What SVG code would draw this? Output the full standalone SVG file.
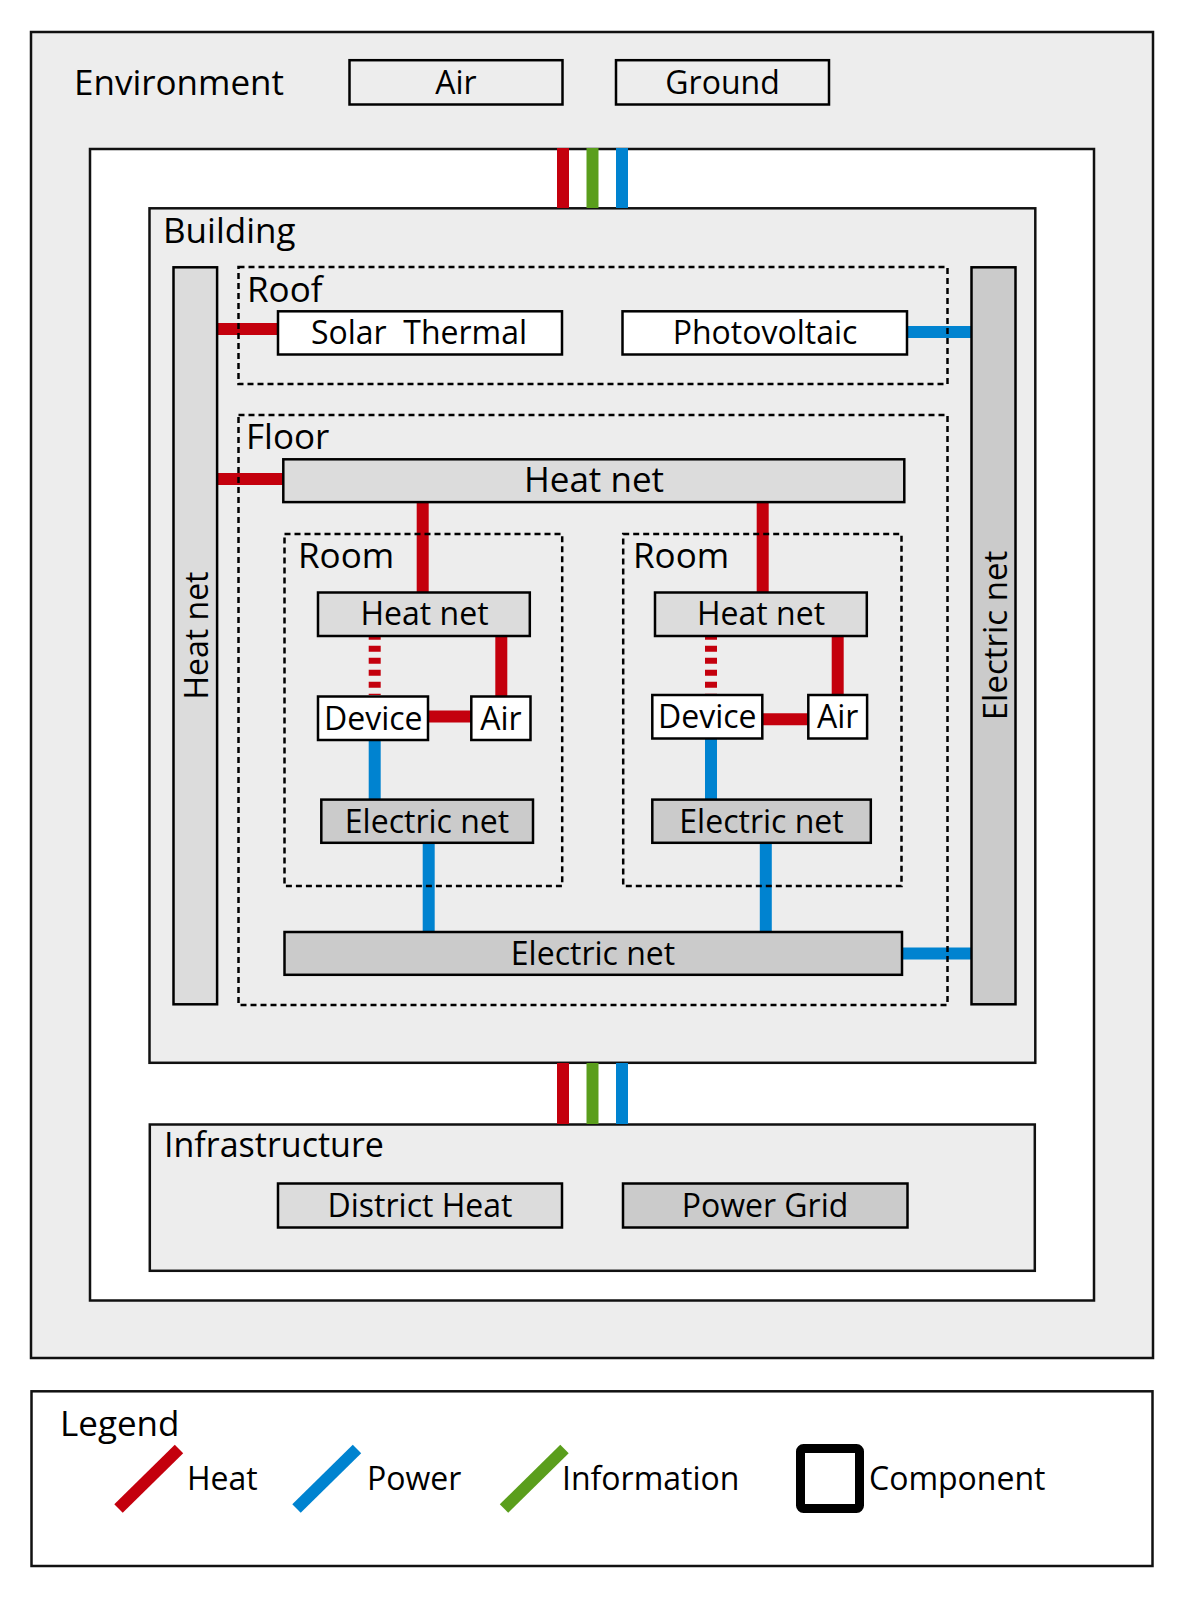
<svg xmlns="http://www.w3.org/2000/svg" width="1183" height="1597" viewBox="0 0 1183 1597">
<style>
  text { font-family: "Open Sans", "Noto Sans", "Liberation Sans", sans-serif; fill: #000; }
  .big { font-size: 35px; }
  .lbl { font-size: 32px; text-anchor: middle; }
  .leg { font-size: 32px; }
  .box { stroke: #000; stroke-width: 2.5; }
  .cont { stroke: #111; stroke-width: 2.5; }
  .dash { fill: none; stroke: #000; stroke-width: 2.5; stroke-dasharray: 6 4; }
  .white { fill: #fff; }
  .bg { fill: #ededed; }
  .lg { fill: #dcdcdc; }
  .dg { fill: #cbcbcb; }
  .heat { stroke: #c4000d; stroke-width: 12; fill: none; }
  .power { stroke: #0083d0; stroke-width: 12; fill: none; }
  .info { stroke: #5a9e1c; stroke-width: 12; fill: none; }
</style>

<g id="environment">
  <rect class="cont bg" x="31" y="32" width="1122" height="1326"/>
  <text class="big" x="74" y="95">Environment</text>
</g>
<g id="env-air">
  <rect class="box bg" x="349.5" y="60.2" width="213" height="44.3"/>
  <text class="lbl" x="456" y="94">Air</text>
</g>
<g id="env-ground">
  <rect class="box bg" x="616" y="60.2" width="213" height="44.3"/>
  <text class="lbl" x="722.5" y="94">Ground</text>
</g>
<g id="system-boundary">
  <rect class="cont white" x="90" y="149" width="1004" height="1151.5"/>
</g>
<g id="building">
  <rect class="cont bg" x="149.5" y="208.3" width="885.8" height="854.5"/>
  <text class="big" x="163" y="243">Building</text>
</g>
<g id="infrastructure">
  <rect class="cont bg" x="149.8" y="1124.5" width="885" height="146.3"/>
  <text class="big" x="164" y="1157" style="font-size:34px">Infrastructure</text>
</g>

<g id="connectors">
  <line class="heat" x1="563" y1="148" x2="563" y2="208"/>
  <line class="info" x1="592.5" y1="148" x2="592.5" y2="208"/>
  <line class="power" x1="622" y1="148" x2="622" y2="208"/>
  <line class="heat" x1="563" y1="1063" x2="563" y2="1124"/>
  <line class="info" x1="592.5" y1="1063" x2="592.5" y2="1124"/>
  <line class="power" x1="622" y1="1063" x2="622" y2="1124"/>
  <line class="heat" x1="217" y1="329" x2="279" y2="329"/>
  <line class="heat" x1="217" y1="479" x2="284" y2="479"/>
  <line class="power" x1="906" y1="332" x2="972" y2="332"/>
  <line class="heat" x1="422.7" y1="502" x2="422.7" y2="593"/>
  <line class="heat" x1="762.7" y1="502" x2="762.7" y2="593"/>
  <line class="heat" x1="374.7" y1="633.7" x2="374.7" y2="695" stroke-dasharray="6 6"/>
  <line class="heat" x1="711" y1="633.7" x2="711" y2="694" stroke-dasharray="6 6"/>
  <line class="heat" x1="501.3" y1="636" x2="501.3" y2="697"/>
  <line class="heat" x1="837.7" y1="636" x2="837.7" y2="696"/>
  <line class="heat" x1="428" y1="716.5" x2="472" y2="716.5"/>
  <line class="heat" x1="762" y1="719.3" x2="809" y2="719.3"/>
  <line class="power" x1="374.7" y1="740" x2="374.7" y2="800"/>
  <line class="power" x1="711" y1="738" x2="711" y2="800"/>
  <line class="power" x1="428.7" y1="842" x2="428.7" y2="933"/>
  <line class="power" x1="765.8" y1="842" x2="765.8" y2="933"/>
  <line class="power" x1="901" y1="953.5" x2="972" y2="953.5"/>
</g>

<g id="roof">
  <rect class="dash" x="238.5" y="267" width="709" height="117"/>
  <text class="big" x="247" y="302">Roof</text>
</g>
<g id="floor">
  <rect class="dash" x="238.5" y="415" width="709" height="590"/>
  <text class="big" x="246" y="449">Floor</text>
</g>
<g id="room-1">
  <rect class="dash" x="284.5" y="534" width="277.7" height="352"/>
  <text class="big" x="298" y="568">Room</text>
</g>
<g id="room-2">
  <rect class="dash" x="623.2" y="534" width="278.3" height="352"/>
  <text class="big" x="633" y="568">Room</text>
</g>

<g id="building-heat-net">
  <rect class="box lg" x="173.5" y="267.3" width="43.6" height="737"/>
  <text class="lbl" transform="translate(208,635.5) rotate(-90)" x="0" y="0">Heat net</text>
</g>
<g id="building-electric-net">
  <rect class="box dg" x="971.5" y="267.3" width="44" height="737"/>
  <text class="lbl" transform="translate(1007,635.5) rotate(-90)" x="0" y="0" style="font-size:33px">Electric net</text>
</g>
<g id="solar-thermal">
  <rect class="box white" x="278" y="311.3" width="284" height="43.2"/>
  <text class="lbl" x="419" y="344" xml:space="preserve">Solar  Thermal</text>
</g>
<g id="photovoltaic">
  <rect class="box white" x="622.5" y="311.3" width="284.5" height="43.2"/>
  <text class="lbl" x="765" y="344">Photovoltaic</text>
</g>
<g id="floor-heat-net">
  <rect class="box lg" x="283.3" y="459.3" width="621" height="42.8"/>
  <text class="lbl" x="594" y="492" style="font-size:35px">Heat net</text>
</g>
<g id="room1-heat-net">
  <rect class="box lg" x="318" y="592.5" width="211.8" height="43.5"/>
  <text class="lbl" x="424.5" y="625">Heat net</text>
</g>
<g id="room2-heat-net">
  <rect class="box lg" x="655" y="592.5" width="211.8" height="43.5"/>
  <text class="lbl" x="761" y="625">Heat net</text>
</g>
<g id="room1-device">
  <rect class="box white" x="318" y="696.5" width="110" height="43.5"/>
  <text class="lbl" x="373.3" y="730">Device</text>
</g>
<g id="room1-air">
  <rect class="box white" x="471.3" y="696.5" width="59.2" height="43.5"/>
  <text class="lbl" x="501" y="730">Air</text>
</g>
<g id="room2-device">
  <rect class="box white" x="652.3" y="695" width="110" height="43.5"/>
  <text class="lbl" x="707.3" y="728.3">Device</text>
</g>
<g id="room2-air">
  <rect class="box white" x="808.3" y="695" width="58.8" height="43.5"/>
  <text class="lbl" x="837.7" y="728.3">Air</text>
</g>
<g id="room1-electric-net">
  <rect class="box dg" x="321.3" y="799.6" width="211.7" height="43.2"/>
  <text class="lbl" x="427" y="832.7">Electric net</text>
</g>
<g id="room2-electric-net">
  <rect class="box dg" x="652.3" y="799.6" width="218.5" height="43.2"/>
  <text class="lbl" x="761.5" y="832.7">Electric net</text>
</g>
<g id="floor-electric-net">
  <rect class="box dg" x="284.5" y="932" width="617.5" height="42.8"/>
  <text class="lbl" x="593" y="965">Electric net</text>
</g>
<g id="district-heat">
  <rect class="box lg" x="278" y="1183.5" width="284" height="44"/>
  <text class="lbl" x="420" y="1217">District Heat</text>
</g>
<g id="power-grid">
  <rect class="box dg" x="623" y="1183.5" width="284.5" height="44"/>
  <text class="lbl" x="765" y="1217">Power Grid</text>
</g>

<g id="legend">
  <rect class="cont white" x="31.5" y="1391.3" width="1121" height="174.7"/>
  <text class="big" x="60" y="1436">Legend</text>
  <line class="heat" x1="118.5" y1="1508.5" x2="179" y2="1449"/>
  <text class="leg" x="187" y="1490">Heat</text>
  <line class="power" x1="296.5" y1="1508.5" x2="357" y2="1449"/>
  <text class="leg" x="367" y="1490">Power</text>
  <line class="info" x1="504" y1="1508.5" x2="564.5" y2="1449"/>
  <text class="leg" x="562" y="1490">Information</text>
  <rect x="800.5" y="1448.5" width="59" height="60" rx="3" fill="#fff" stroke="#000" stroke-width="9"/>
  <text class="leg" x="869" y="1490">Component</text>
</g>
</svg>
